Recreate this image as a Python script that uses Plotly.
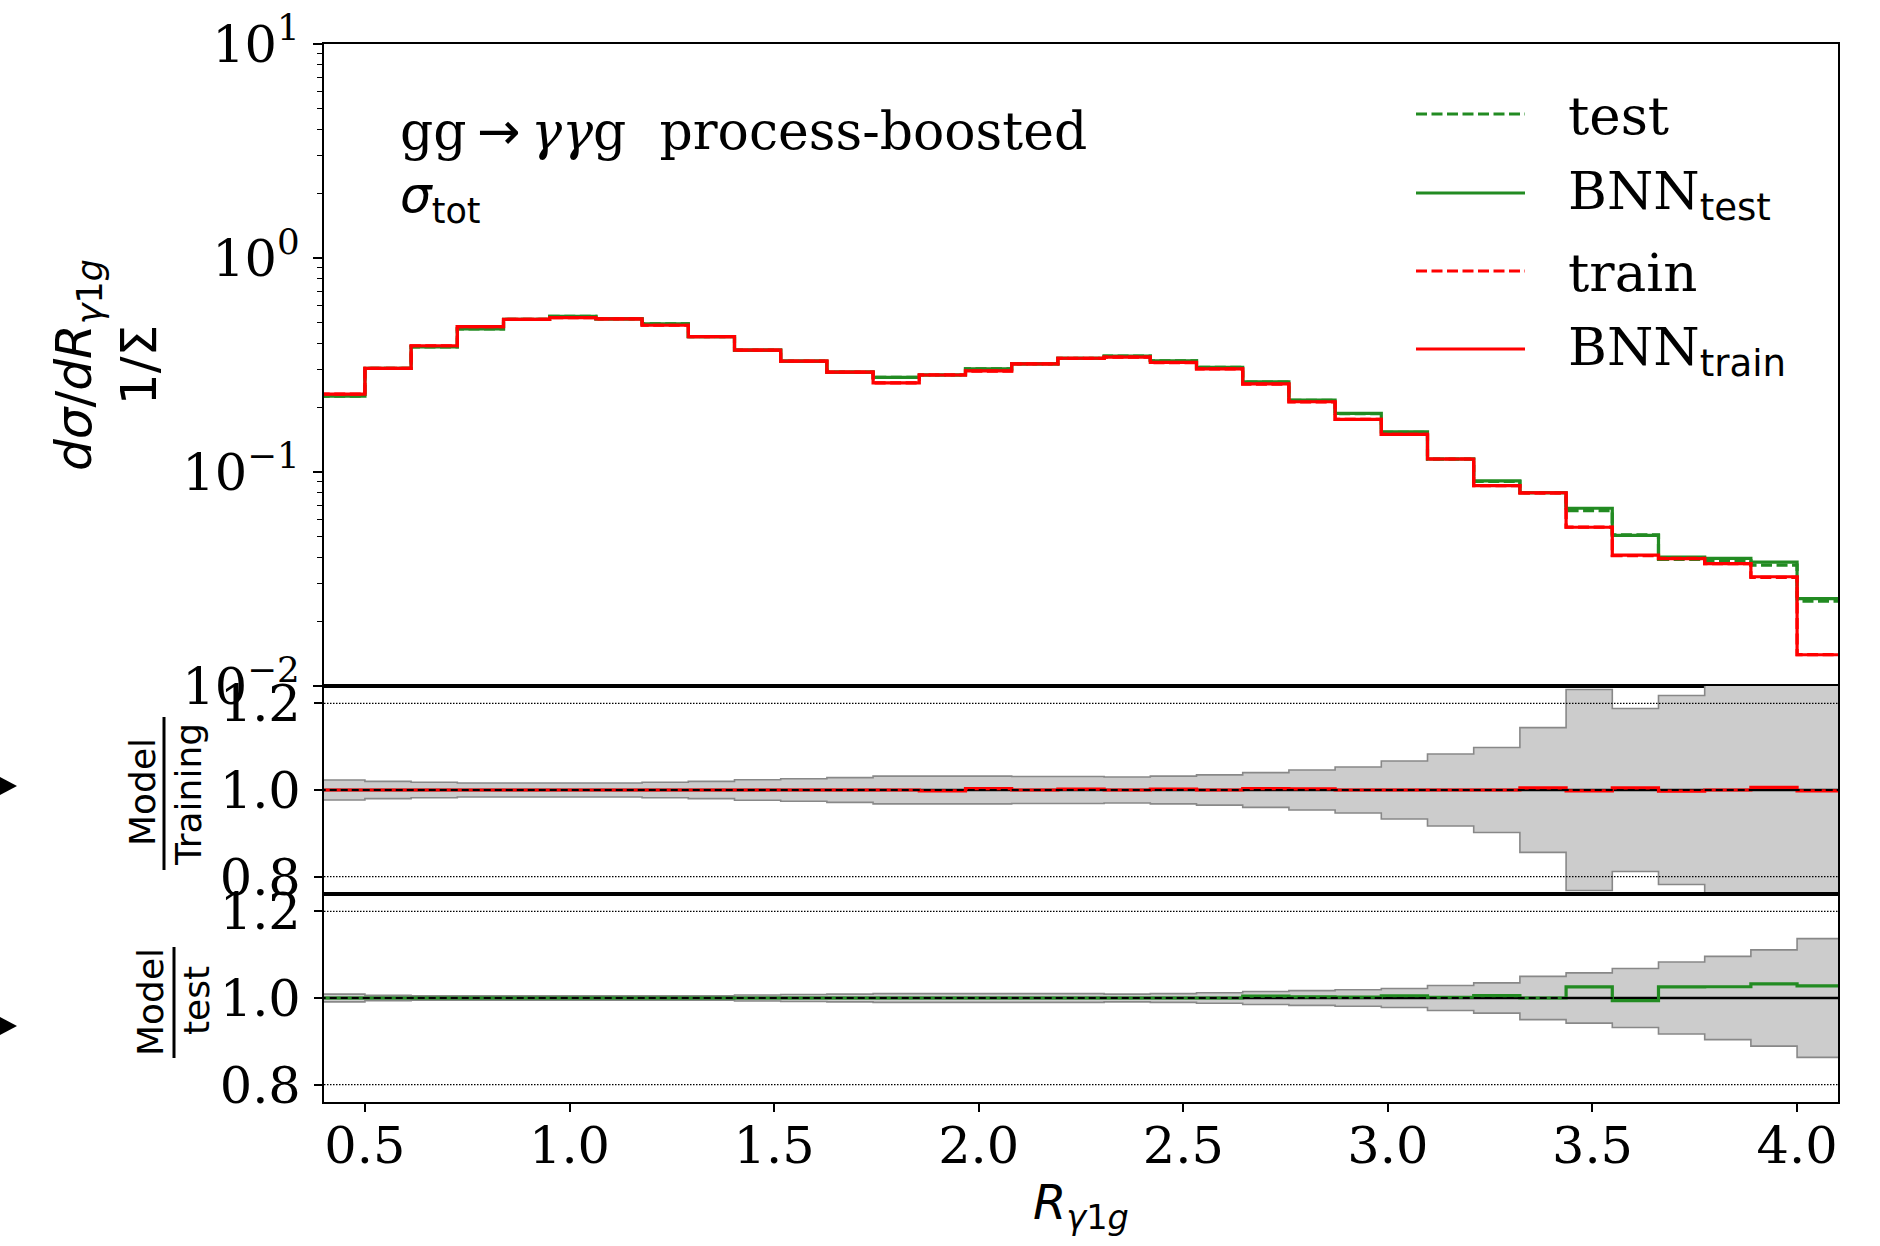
import plotly.graph_objects as go

W, H = 1880, 1246


def px(x):
    return x / W


def py(y):
    return 1 - y / H


# ---------------- data ----------------
bin_edges = [0.3871, 0.5, 0.6129, 0.7258, 0.8387, 0.9516, 1.0645, 1.1774, 1.2903, 1.4032,
             1.5161, 1.6290, 1.7419, 1.8548, 1.9677, 2.0806, 2.1935, 2.3065, 2.4194, 2.5323,
             2.6452, 2.7581, 2.8710, 2.9839, 3.0968, 3.2097, 3.3226, 3.4355, 3.5484, 3.6613,
             3.7742, 3.8871, 4.0, 4.1129]

bnn_train = [0.231, 0.305, 0.389, 0.478, 0.517, 0.526, 0.519, 0.485, 0.429, 0.371, 0.330,
             0.293, 0.261, 0.284, 0.297, 0.320, 0.340, 0.344, 0.325, 0.303, 0.258, 0.213,
             0.176, 0.150, 0.115, 0.0863, 0.0800, 0.0552, 0.0409, 0.0394, 0.0373, 0.0324, 0.0140]
train = [0.231, 0.305, 0.389, 0.478, 0.517, 0.526, 0.519, 0.485, 0.429, 0.371, 0.330,
         0.293, 0.261, 0.2846, 0.2961, 0.320, 0.3393, 0.344, 0.3244, 0.303, 0.2572, 0.2124,
         0.176, 0.150, 0.115, 0.0863, 0.0796, 0.0553, 0.0407, 0.0395, 0.0373, 0.0322, 0.01403]
bnn_test = [0.226, 0.305, 0.384, 0.466, 0.517, 0.534, 0.519, 0.492, 0.429, 0.371, 0.330,
            0.293, 0.277, 0.284, 0.303, 0.320, 0.340, 0.348, 0.331, 0.308, 0.264, 0.217,
            0.188, 0.154, 0.115, 0.0908, 0.0800, 0.0677, 0.0506, 0.0400, 0.0395, 0.0379, 0.0256]
test = [0.226, 0.305, 0.384, 0.466, 0.517, 0.534, 0.519, 0.492, 0.429, 0.371, 0.330,
        0.293, 0.277, 0.284, 0.303, 0.320, 0.340, 0.348, 0.331, 0.308, 0.2629, 0.2164,
        0.1876, 0.1532, 0.1148, 0.0903, 0.0800, 0.0660, 0.0509, 0.0390, 0.0385, 0.0367, 0.0249]

# relative uncertainty bands of the ratio panels
rel_unc_train = [0.023, 0.020, 0.018, 0.016, 0.016, 0.016, 0.016, 0.018, 0.020, 0.0235, 0.026,
                 0.0285, 0.032, 0.032, 0.032, 0.031, 0.031, 0.030, 0.032, 0.035, 0.040, 0.046,
                 0.053, 0.067, 0.083, 0.098, 0.144, 0.232, 0.188, 0.218, 0.30, 0.35, 0.45]
rel_unc_test = [0.009, 0.006, 0.005, 0.005, 0.005, 0.005, 0.005, 0.005, 0.005, 0.007, 0.008,
                0.009, 0.010, 0.010, 0.010, 0.010, 0.010, 0.009, 0.010, 0.012, 0.015, 0.017,
                0.019, 0.022, 0.029, 0.035, 0.050, 0.058, 0.068, 0.083, 0.096, 0.111, 0.137]

x_tick_vals = [0.5, 1.0, 1.5, 2.0, 2.5, 3.0, 3.5, 4.0]
x_tick_text = ["0.5", "1.0", "1.5", "2.0", "2.5", "3.0", "3.5", "4.0"]
main_tick_vals = [0.01, 0.1, 1, 10]
main_tick_text = ["10<sup>\u22122</sup>", "10<sup>\u22121</sup>", "10<sup>0</sup>", "10<sup>1</sup>"]
minor_decades = [0.01, 0.1, 1]
minor_digits = [2, 3, 4, 5, 6, 7, 8, 9]
ratio_tick_vals = [0.8, 1.0, 1.2]
ratio_tick_text = ["0.8", "1.0", "1.2"]
ratio_grid = [0.8, 1.2]

X_RANGE = [0.4, 4.1]
RATIO_RANGE = [0.76, 1.24]

GREEN = "#228B22"
RED = "#FF0000"
SERIF = "DejaVu Serif"
SANS = "DejaVu Sans"


def step(vals):
    return list(vals) + [vals[-1]]


ratio_train = [a / b for a, b in zip(bnn_train, train)]
ratio_train_ref = [b / b for b in train]
ratio_test = [a / b for a, b in zip(bnn_test, test)]
ratio_test_ref = [b / b for b in test]

fig = go.Figure()

# ---------------- main panel ----------------
for vals, color, dash in [(test, GREEN, "11px,4.5px"), (bnn_test, GREEN, "solid"),
                          (train, RED, "11px,4.5px"), (bnn_train, RED, "solid")]:
    fig.add_trace(go.Scatter(x=bin_edges, y=step(vals), mode="lines",
                             line=dict(shape="hv", color=color, width=3.2, dash=dash),
                             xaxis="x", yaxis="y", hoverinfo="skip"))


# ---------------- ratio panels ----------------
def ratio_panel(xa, ya, unc, ratio, ref, color):
    lower = [1 - e for e in unc]
    upper = [1 + e for e in unc]
    fig.add_trace(go.Scatter(x=bin_edges, y=step(lower), mode="lines",
                             line=dict(shape="hv", color="#888888", width=1.6),
                             xaxis=xa, yaxis=ya, hoverinfo="skip"))
    fig.add_trace(go.Scatter(x=bin_edges, y=step(upper), mode="lines", fill="tonexty",
                             fillcolor="#CCCCCC",
                             line=dict(shape="hv", color="#888888", width=1.6),
                             xaxis=xa, yaxis=ya, hoverinfo="skip"))
    fig.add_trace(go.Scatter(x=bin_edges, y=step(ref), mode="lines",
                             line=dict(shape="hv", color="black", width=2.4),
                             xaxis=xa, yaxis=ya, hoverinfo="skip"))
    fig.add_trace(go.Scatter(x=bin_edges, y=step(ratio), mode="lines",
                             line=dict(shape="hv", color=color, width=3.2),
                             xaxis=xa, yaxis=ya, hoverinfo="skip"))
    fig.add_trace(go.Scatter(x=bin_edges, y=step(ref), mode="lines",
                             line=dict(shape="hv", color="black", width=2, dash="7px,4px"),
                             xaxis=xa, yaxis=ya, hoverinfo="skip"))


ratio_panel("x2", "y2", rel_unc_train, ratio_train, ratio_train_ref, RED)
ratio_panel("x3", "y3", rel_unc_test, ratio_test, ratio_test_ref, GREEN)

# ---------------- axes ----------------
xdom = [px(324), px(1838)]
frame = dict(showline=True, mirror=True, linecolor="black", linewidth=2,
             showgrid=False, zeroline=False, automargin=False)
tickfont = dict(family=SERIF, size=51, color="black")

layout_axes = dict(
    xaxis=dict(domain=xdom, range=X_RANGE, anchor="y", ticks="", showticklabels=False, **frame),
    xaxis2=dict(domain=xdom, range=X_RANGE, anchor="y2", ticks="", showticklabels=False, **frame),
    xaxis3=dict(domain=xdom, range=X_RANGE, anchor="y3", ticks="outside", ticklen=8,
                tickwidth=1.6, tickcolor="black", tickvals=x_tick_vals, ticktext=x_tick_text,
                tickfont=tickfont, ticklabelstandoff=-10, **frame),
    yaxis=dict(domain=[py(686), py(44)], type="log", range=[-2, 1], anchor="x",
               tickvals=main_tick_vals, ticktext=main_tick_text, ticks="outside",
               ticklen=9, tickwidth=1.6, tickcolor="black", tickfont=tickfont,
               ticklabelstandoff=3,
               minor=dict(ticks="outside", ticklen=5, tickwidth=1.2, tickcolor="black",
                          tickmode="array",
                          tickvals=[d * k for d in minor_decades for k in minor_digits]),
               **frame),
    yaxis2=dict(domain=[py(894), py(686)], range=RATIO_RANGE, anchor="x2",
                tickvals=ratio_tick_vals, ticktext=ratio_tick_text, ticks="outside",
                ticklen=8, tickwidth=1.6, tickcolor="black", tickfont=tickfont,
                ticklabelstandoff=3, **frame),
    yaxis3=dict(domain=[py(1102), py(894)], range=RATIO_RANGE, anchor="x3",
                tickvals=ratio_tick_vals, ticktext=ratio_tick_text, ticks="outside",
                ticklen=8, tickwidth=1.6, tickcolor="black", tickfont=tickfont,
                ticklabelstandoff=3, **frame),
)

shapes = []
# dotted reference lines in ratio panels
for xa, ya in [("x2", "y2"), ("x3", "y3")]:
    for g in ratio_grid:
        shapes.append(dict(type="line", xref=xa + " domain", yref=ya, x0=0, x1=1, y0=g, y1=g,
                           line=dict(color="black", width=1.2, dash="1.5px,1.5px"), layer="above"))

# legend samples
legend_rows = [("test", GREEN, "11px,4.5px", 114),
               ("BNN<sub><span style='font-family:DejaVu Sans'>test</span></sub>", GREEN, "solid", 193),
               ("train", RED, "11px,4.5px", 271),
               ("BNN<sub><span style='font-family:DejaVu Sans'>train</span></sub>", RED, "solid", 349)]
annotations = []
for label, color, dash, yy in legend_rows:
    shapes.append(dict(type="line", xref="paper", yref="paper", x0=px(1416), x1=px(1525),
                       y0=py(yy), y1=py(yy), line=dict(color=color, width=3, dash=dash)))
    annotations.append(dict(text=label, xref="paper", yref="paper", x=px(1566), y=py(yy + 1),
                            xanchor="left", yanchor="middle", showarrow=False,
                            font=dict(family=SERIF, size=53, color="black")))

# fraction bars of ratio labels
shapes.append(dict(type="line", xref="paper", yref="paper", x0=px(164), x1=px(164),
                   y0=py(717), y1=py(870), line=dict(color="black", width=3)))
shapes.append(dict(type="line", xref="paper", yref="paper", x0=px(174), x1=px(174),
                   y0=py(947), y1=py(1058), line=dict(color="black", width=3)))

# little arrow heads at left edge
for yc in [786, 1026]:
    shapes.append(dict(type="path", xref="paper", yref="paper",
                       path=f"M {px(-2)},{py(yc - 10)} L {px(17)},{py(yc)} L {px(-2)},{py(yc + 10)} Z",
                       fillcolor="black", line=dict(width=0)))

annotations += [
    dict(text="gg<span style='font-family:DejaVu Sans'>\u2009\u2192\u2009</span><i>\u03b3\u03b3</i>g"
              "\u00a0\u00a0process-boosted", xref="paper", yref="paper",
         x=px(398), y=py(131), xanchor="left", yanchor="middle", showarrow=False,
         font=dict(family=SERIF, size=52, color="black")),
    dict(text="<i>\u03c3</i><sub>tot</sub>", xref="paper", yref="paper",
         x=px(398), y=py(198), xanchor="left", yanchor="middle", showarrow=False,
         font=dict(family=SANS, size=50, color="black")),
    dict(text="<i>d\u03c3</i>/<i>dR</i><sub><i>\u03b3</i>1<i>g</i></sub><br>1/\u03a3",
         xref="paper", yref="paper", x=px(106), y=py(365), xanchor="center", yanchor="middle",
         textangle=-90, showarrow=False, font=dict(family=SANS, size=50, color="black")),
    dict(text="Model", xref="paper", yref="paper", x=px(142), y=py(792), xanchor="center",
         yanchor="middle", textangle=-90, showarrow=False,
         font=dict(family=SANS, size=36, color="black")),
    dict(text="Training", xref="paper", yref="paper", x=px(188), y=py(795), xanchor="center",
         yanchor="middle", textangle=-90, showarrow=False,
         font=dict(family=SANS, size=36, color="black")),
    dict(text="Model", xref="paper", yref="paper", x=px(150), y=py(1002), xanchor="center",
         yanchor="middle", textangle=-90, showarrow=False,
         font=dict(family=SANS, size=36, color="black")),
    dict(text="test", xref="paper", yref="paper", x=px(196), y=py(1001), xanchor="center",
         yanchor="middle", textangle=-90, showarrow=False,
         font=dict(family=SANS, size=36, color="black")),
    dict(text="<i>R</i><sub><i>\u03b3</i>1<i>g</i></sub>", xref="paper", yref="paper",
         x=px(1081), y=py(1205), xanchor="center", yanchor="middle", showarrow=False,
         font=dict(family=SANS, size=48, color="black")),
]

fig.update_layout(
    width=W, height=H, margin=dict(l=0, r=0, t=0, b=0, autoexpand=False),
    paper_bgcolor="white", plot_bgcolor="white", showlegend=False,
    shapes=shapes, annotations=annotations, **layout_axes,
)

fig.write_html("out.html")
